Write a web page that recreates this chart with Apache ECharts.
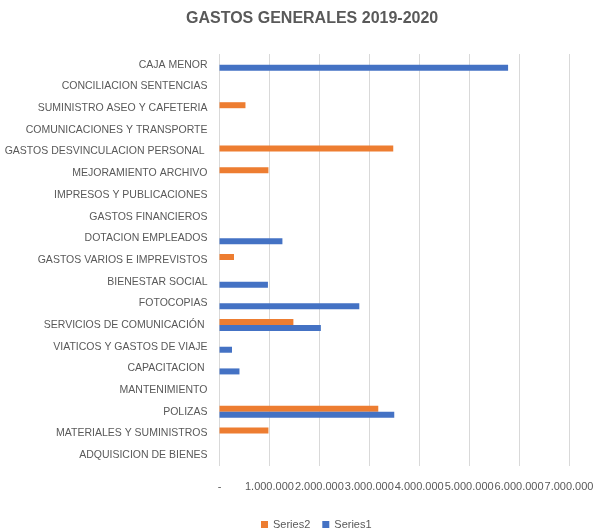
<!DOCTYPE html>
<html><head><meta charset="utf-8">
<script src="https://cdn.jsdelivr.net/npm/echarts@6/dist/echarts.min.js"></script>
<style>html,body{margin:0;padding:0;background:#fff}#c{width:597px;height:529px}</style>
</head><body><div id="c"></div>
<script>
const categories = ["ADQUISICION DE BIENES","MATERIALES Y SUMINISTROS","POLIZAS","MANTENIMIENTO","CAPACITACION ","VIATICOS Y GASTOS DE VIAJE","SERVICIOS DE COMUNICACIÓN ","FOTOCOPIAS","BIENESTAR SOCIAL","GASTOS VARIOS E IMPREVISTOS","DOTACION EMPLEADOS","GASTOS FINANCIEROS","IMPRESOS Y PUBLICACIONES","MEJORAMIENTO ARCHIVO","GASTOS DESVINCULACION PERSONAL ","COMUNICACIONES Y TRANSPORTE","SUMINISTRO ASEO Y CAFETERIA","CONCILIACION SENTENCIAS","CAJA MENOR"];
const series1 = [0,0,3500000,0,400000,250000,2030000,2800000,970000,0,1260000,0,0,0,0,0,0,0,5780000];
const series2 = [0,980000,3180000,0,0,0,1480000,0,0,290000,0,0,0,980000,3480000,0,520000,0,0];
const xTicks = [0,1000000,2000000,3000000,4000000,5000000,6000000,7000000];
const font = "'Liberation Sans', Arial, sans-serif";
function fmt(v){ if(v===0) return '-'; return String(v).replace(/\B(?=(\d{3})+(?!\d))/g,'.'); }
const chart = echarts.init(document.getElementById('c'));
chart.setOption({
  animation:false,
  title:{text:'GASTOS GENERALES 2019-2020',left:181,top:6,textStyle:{fontFamily:font,fontSize:16,fontWeight:'bold',color:'#595959'}},
  legend:{data:['Series2','Series1'],top:514,left:256,itemWidth:7,itemHeight:7,itemGap:12,icon:'rect',textStyle:{fontFamily:font,fontSize:11,color:'#595959'}},
  grid:{left:219.5,right:28,top:54,bottom:63,containLabel:false,outerBoundsMode:'none'},
  xAxis:{type:'value',min:xTicks[0],max:xTicks[xTicks.length-1],interval:1000000,
    axisLine:{show:false},axisTick:{show:false},
    splitLine:{lineStyle:{color:'#d9d9d9',width:1}},
    axisLabel:{formatter:fmt,fontFamily:font,fontSize:11,color:'#595959',margin:15,hideOverlap:false,showMinLabel:true,showMaxLabel:true}},
  yAxis:{type:'category',data:categories,axisLine:{show:false},axisTick:{show:false},
    axisLabel:{fontFamily:font,fontSize:10.5,color:'#595959',margin:12,interval:0}},
  series:[
    {name:'Series2',type:'bar',data:series2,barWidth:6,barGap:'0%',itemStyle:{color:'#ED7D31'}},
    {name:'Series1',type:'bar',data:series1,barWidth:6,barGap:'0%',itemStyle:{color:'#4472C4'}}
  ]
});
</script></body></html>
